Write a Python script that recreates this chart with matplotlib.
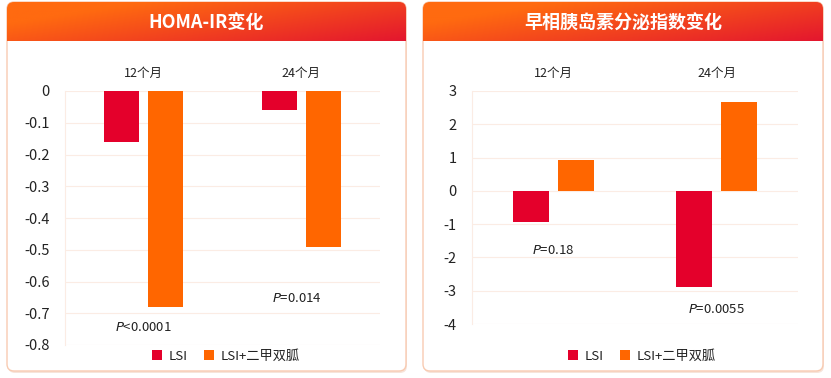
import numpy as np
import matplotlib
matplotlib.use("Agg")
import matplotlib.pyplot as plt
from matplotlib.patches import FancyBboxPatch

plt.rcParams['font.family'] = ['Noto Sans CJK SC', 'DejaVu Sans']
plt.rcParams['mathtext.fontset'] = 'dejavusans'

# ---- data ----
categories = ["12个月", "24个月"]
series_names = ["LSI", "LSI+二甲双胍"]
homa_lsi = [-0.16, -0.06]
homa_combo = [-0.68, -0.49]
homa_p = ["$\\it{P}$<0.0001", "$\\it{P}$=0.014"]
homa_p_pos = [(0.0, -0.745), (0.97, -0.652)]
homa_ticks = [0, -0.1, -0.2, -0.3, -0.4, -0.5, -0.6, -0.7, -0.8]

ins_lsi = [-0.93, -2.88]
ins_combo = [0.93, 2.67]
ins_p = ["$\\it{P}$=0.18", "$\\it{P}$=0.0055"]
ins_p_pos = [(0.0, -1.8), (1.0, -3.57)]
ins_ticks = [3, 2, 1, 0, -1, -2, -3, -4]

titles = ["HOMA-IR变化", "早相胰岛素分泌指数变化"]

C_RED = "#E4002B"
C_ORANGE = "#FF6600"
GRID = "#FBECE4"
BORDER = "#F8CBB2"

W, H = 831, 378
fig = plt.figure(figsize=(W / 100, H / 100), dpi=100)

# background layer in pixel coords
bg = fig.add_axes([0, 0, 1, 1])
bg.set_xlim(0, W)
bg.set_ylim(H, 0)
bg.axis("off")

cards = [(7, 406), (423, 823)]
top, bottom, head_bot = 2, 371, 41

# gradient image
gx = np.linspace(0, 1, 200)
gy = np.linspace(0, 1, 40)
GX, GY = np.meshgrid(gx, gy)
t = np.clip(0.75 * GX + 0.45 * GY - 0.25, 0, 1)
c0 = np.array([255, 106, 16]) / 255.0
c1 = np.array([226, 18, 48]) / 255.0
img = c0[None, None, :] * (1 - t[..., None]) + c1[None, None, :] * t[..., None]

for (x0, x1), title in zip(cards, titles):
    sh = FancyBboxPatch((x0 + 1, top + 2), x1 - x0, bottom - top,
                        boxstyle="round,pad=0,rounding_size=7",
                        fc="#F6E4DA", ec="none", zorder=0)
    bg.add_patch(sh)
    card = FancyBboxPatch((x0, top), x1 - x0, bottom - top,
                          boxstyle="round,pad=0,rounding_size=7",
                          fc="white", ec=BORDER, lw=1.0, zorder=1)
    bg.add_patch(card)
    clip = FancyBboxPatch((x0, top), x1 - x0, 60,
                          boxstyle="round,pad=0,rounding_size=7",
                          fc="none", ec="none", transform=bg.transData)
    bg.add_patch(clip)
    im = bg.imshow(img, extent=[x0, x1, head_bot, top], aspect="auto",
                   zorder=2, interpolation="bilinear")
    im.set_clip_path(clip)
    bg.text((x0 + x1) / 2, 23, title, color="white", fontsize=13,
            fontweight="bold", ha="center", va="center", zorder=3)


def make_panel(px0, px1, py0, py1, lsi, combo, ticks, ylim, ptexts, ppos, leg_x):
    ax = fig.add_axes([px0 / W, 1 - py1 / H, (px1 - px0) / W, (py1 - py0) / H])
    ax.set_facecolor("none")
    x = np.arange(len(categories))
    off, bw = 0.14, 0.22
    ax.bar(x - off, lsi, bw, color=C_RED, label=series_names[0], zorder=3)
    ax.bar(x + off, combo, bw, color=C_ORANGE, label=series_names[1], zorder=3)
    ax.set_xlim(-0.5, len(categories) - 0.5)
    ax.set_ylim(*ylim)
    ax.set_yticks(ticks)
    ax.set_yticklabels([f"{v:g}" for v in ticks])
    ax.yaxis.grid(True, color=GRID, lw=0.8, zorder=0)
    for s in ["top", "right", "bottom"]:
        ax.spines[s].set_visible(False)
    ax.spines["left"].set_color(GRID)
    ax.spines["left"].set_linewidth(0.8)
    ax.tick_params(axis="y", length=0, pad=11, labelsize=10.5, labelcolor="#222222")
    ax.xaxis.tick_top()
    ax.set_xticks(x)
    ax.set_xticklabels(categories)
    ax.tick_params(axis="x", length=0, pad=8, labelsize=9, labelcolor="#222222")
    for txt, (tx, ty) in zip(ptexts, ppos):
        ax.text(tx, ty, txt, ha="center", va="center", fontsize=9.5, color="#222222")
    ax.legend(loc="center", bbox_to_anchor=(leg_x / W, 1 - 356 / H),
              bbox_transform=fig.transFigure, ncol=2, frameon=False,
              fontsize=9.5, handlelength=0.7, handleheight=0.7,
              handletextpad=0.5, columnspacing=1.3, labelcolor="#222222")
    return ax


make_panel(65, 380, 91, 345, homa_lsi, homa_combo, homa_ticks, (-0.8, 0),
           homa_p, homa_p_pos, 226)
make_panel(472, 798, 91, 324, ins_lsi, ins_combo, ins_ticks, (-4, 3),
           ins_p, ins_p_pos, 642)

fig.savefig("out.png", dpi=100)
